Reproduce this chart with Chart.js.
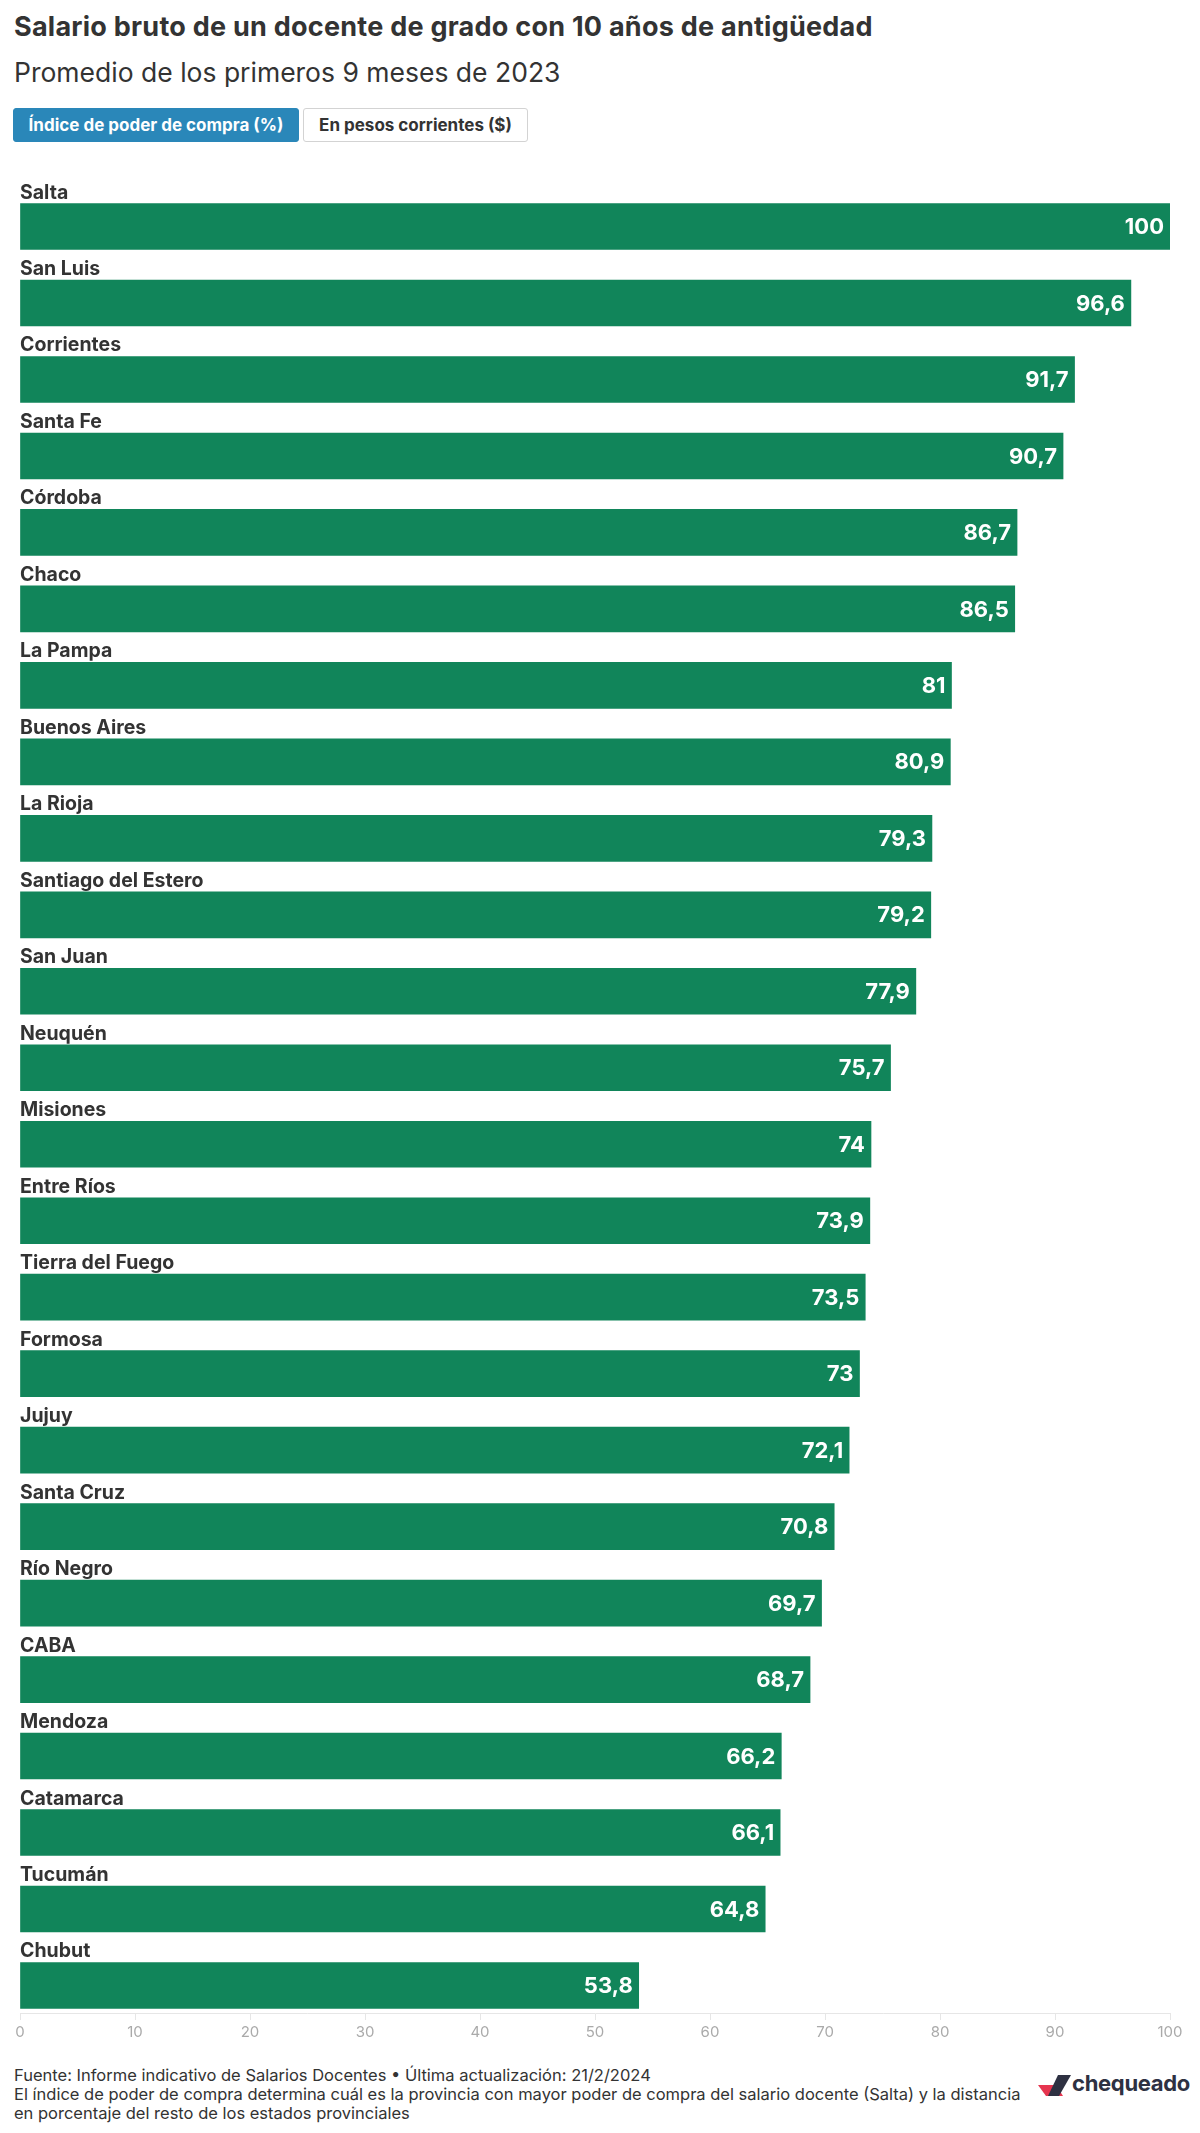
<!DOCTYPE html>
<html>
<head>
<meta charset="utf-8">
<script src="https://cdn.jsdelivr.net/npm/chart.js@4.4.1/dist/chart.umd.min.js"></script>
<style>
  body {
    margin: 0;
    width: 1200px;
    height: 2133px;
    background: #fff;
    font-family: Inter, Roboto, sans-serif;
    color: #333;
    position: relative;
    overflow: hidden;
  }
  .title {
    position: absolute; left: 14px; top: 11px; white-space: nowrap;
    font-size: 27px; line-height: 32px; font-weight: 700; color: #333; letter-spacing: 0.25px;
  }
  .subtitle {
    position: absolute; left: 14px; top: 56px; white-space: nowrap;
    font-size: 26.5px; line-height: 32px; font-weight: 400; color: #333;
  }
  .btn {
    position: absolute; top: 108px; height: 34px; box-sizing: border-box;
    font-size: 17px; font-weight: 700; line-height: 32px; text-align: center;
    border-radius: 3px; white-space: nowrap;
  }
  .btn.on { left: 13px; width: 286px; background: #2a87b9; color: #fff; border: 1px solid #2a87b9; }
  .btn.off { left: 303px; width: 225px; background: #fff; color: #333; border: 1px solid #d3d3d3; }
  #wrap { position: absolute; left: 0; top: 150px; width: 1200px; height: 1896px; }
  .foot {
    position: absolute; left: 14px; top: 2066px; white-space: nowrap;
    font-size: 16.5px; line-height: 19px; color: #333;
  }
  .logo { position: absolute; left: 1038px; top: 2075px; width: 152px; height: 28px; }
  .logo svg { position: absolute; left: 0; top: 0; }
  .logo span {
    position: absolute; left: 34px; top: -6px; line-height: 28px;
    font-size: 22px; font-weight: 700; color: #2e3142; letter-spacing: -0.3px;
  }
</style>
</head>
<body>
<div class="title">Salario bruto de un docente de grado con 10 años de antigüedad</div>
<div class="subtitle">Promedio de los primeros 9 meses de 2023</div>
<div class="btn on">Índice de poder de compra (%)</div>
<div class="btn off">En pesos corrientes ($)</div>
<div id="wrap"><canvas id="chart"></canvas></div>
<div class="foot">Fuente: Informe indicativo de Salarios Docentes • Última actualización: 21/2/2024<br>El índice de poder de compra determina cuál es la provincia con mayor poder de compra del salario docente (Salta) y la distancia<br>en porcentaje del resto de los estados provinciales</div>
<div class="logo">
  <svg width="36" height="22" viewBox="0 0 36 22">
    <polygon points="0,10 18,10 25,21 8,21" fill="#e6354f"/>
    <polygon points="20,0 33,0 21,21 10,21" fill="#2e3142"/>
  </svg>
  <span>chequeado</span>
</div>
<script>
const provinces = ['Salta', 'San Luis', 'Corrientes', 'Santa Fe', 'Córdoba', 'Chaco', 'La Pampa',
  'Buenos Aires', 'La Rioja', 'Santiago del Estero', 'San Juan', 'Neuquén', 'Misiones', 'Entre Ríos',
  'Tierra del Fuego', 'Formosa', 'Jujuy', 'Santa Cruz', 'Río Negro', 'CABA', 'Mendoza', 'Catamarca',
  'Tucumán', 'Chubut'];
const values = [100, 96.6, 91.7, 90.7, 86.7, 86.5, 81, 80.9, 79.3, 79.2, 77.9, 75.7, 74, 73.9,
  73.5, 73, 72.1, 70.8, 69.7, 68.7, 66.2, 66.1, 64.8, 53.8];
const xTicks = [0, 10, 20, 30, 40, 50, 60, 70, 80, 90, 100];

const green = '#11855a';
const fmt = (v) => String(v).replace('.', ',');

// province name above each bar, value inside the bar end
const rowLabels = {
  id: 'rowLabels',
  afterDatasetsDraw(chart) {
    const ctx = chart.ctx;
    const meta = chart.getDatasetMeta(0);
    ctx.save();
    meta.data.forEach((bar, i) => {
      const top = bar.y - bar.height / 2;
      ctx.font = '700 19.5px Inter';
      ctx.fillStyle = '#333';
      ctx.textAlign = 'left';
      ctx.textBaseline = 'alphabetic';
      ctx.fillText(provinces[i], chart.chartArea.left, top - 5);

      ctx.font = '700 22px Inter';
      ctx.fillStyle = '#fff';
      ctx.textAlign = 'right';
      ctx.textBaseline = 'middle';
      ctx.fillText(fmt(values[i]), bar.x - 6, bar.y + 1);
    });
    ctx.restore();
  },
};

new Chart(document.getElementById('chart'), {
  type: 'bar',
  data: {
    datasets: [
      {
        data: values.map((v, i) => ({ x: v, y: i })),
        backgroundColor: green,
        barThickness: 46,
      },
    ],
  },
  options: {
    indexAxis: 'y',
    animation: false,
    responsive: true,
    maintainAspectRatio: false,
    layout: {
      padding: { left: 20, right: 30, top: 23, bottom: 0 },
    },
    plugins: {
      legend: { display: false },
      tooltip: { enabled: false },
    },
    scales: {
      y: {
        type: 'linear',
        display: false,
        reverse: true,
        offset: false,
        grid: { offset: false },
        min: -0.7,
        max: 23.36,
      },
      x: {
        min: 0,
        max: 100,
        afterBuildTicks(scale) {
          scale.ticks = xTicks.map((v) => ({ value: v }));
        },
        afterFit(scale) {
          scale.height = 33;
        },
        border: { display: true, color: '#e6e6e6', width: 1 },
        grid: {
          drawOnChartArea: false,
          drawTicks: true,
          tickLength: 7,
          color: '#e6e6e6',
        },
        ticks: {
          color: '#aaaaaa',
          padding: 3,
          font: { family: 'Inter', size: 15 },
        },
      },
    },
  },
  plugins: [rowLabels],
});
</script>
</body>
</html>
